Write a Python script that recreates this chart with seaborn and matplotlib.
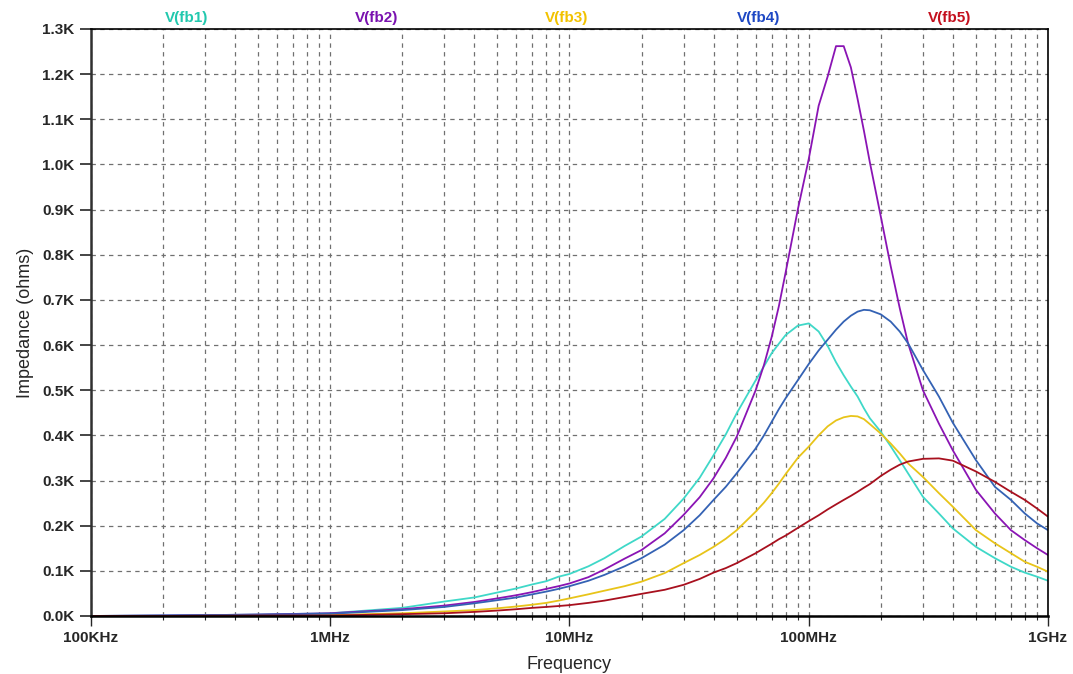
import matplotlib
matplotlib.use("Agg")

import numpy as np
import pandas as pd
import matplotlib.pyplot as plt
import matplotlib.ticker as mticker
import seaborn as sns

# ---------------------------------------------------------------
# data (frequency in MHz, impedance in ohms)
# ---------------------------------------------------------------
freq_mhz = [0.1, 0.2, 0.5, 1,
            2, 3, 4, 5, 6, 7, 8, 9, 10,
            12, 14, 17, 20,
            25, 30, 35, 40, 45, 50,
            60, 65, 70, 75, 80, 90, 100,
            110, 120, 130, 140, 150, 160, 170, 180,
            200, 220, 240, 260,
            300, 350, 400,
            500, 600, 700, 800, 900, 1000]

fb1 = [0, 1, 3, 6,
       18, 32, 41, 52, 61, 70, 77, 87, 93,
       110, 128, 155, 176,
       215, 260, 306, 356, 402, 449,
       522, 553, 582, 603, 622, 643, 648,
       630, 598, 562, 533, 508, 486, 460, 438,
       408, 376, 345, 316,
       264, 227, 194,
       153, 128, 109, 96, 87, 78]

fb2 = [0, 1, 3, 6,
       15, 23, 31, 39, 46, 53, 60, 66, 72,
       86, 103, 127, 146,
       183, 224, 263, 305, 350, 397,
       500, 556, 618, 686, 760, 900, 1012,
       1130, 1195, 1262, 1262, 1215, 1145, 1075, 1005,
       885, 775, 682, 604,
       500, 426, 367,
       279, 227, 190, 168, 150, 135]

fb3 = [0, 0, 1, 2,
       6, 10, 13, 17, 21, 25, 29, 34, 39,
       48, 56, 66, 76,
       95, 117, 135, 153, 171, 190,
       231, 251, 272, 293, 314, 350, 375,
       400, 420, 433, 440, 443, 442, 436, 425,
       404, 382, 360, 338,
       308, 272, 242,
       190, 161, 139, 120, 109, 98]

fb4 = [0, 1, 3, 5,
       13, 20, 28, 35, 41, 48, 54, 60, 66,
       78, 91, 110, 128,
       158, 190, 223, 257, 286, 316,
       371, 400, 430, 458, 482, 522, 558,
       588, 612, 634, 652, 665, 674, 678, 677,
       668, 652, 630, 604,
       545, 486, 428,
       345, 286, 257, 227, 205, 190]

fb5 = [0, 0, 1, 1,
       4, 6, 9, 12, 15, 18, 20, 22, 24,
       29, 34, 42, 49,
       58, 69, 82, 96, 106, 117,
       139, 150, 160, 170, 178, 195, 210,
       223, 236, 247, 257, 266, 275, 284, 292,
       310, 324, 335, 342,
       348, 349, 344,
       320, 297, 275, 257, 238, 220]

series_names = ["V(fb1)", "V(fb2)", "V(fb3)", "V(fb4)", "V(fb5)"]
line_colors = ["#3fd8c8", "#8a14b4", "#e8c419", "#3462b4", "#a8101e"]
label_colors = ["#22c8ae", "#7a12b0", "#f2c200", "#1e48c4", "#c4101e"]

x_ticks = [1e5, 1e6, 1e7, 1e8, 1e9]
x_tick_labels = ["100KHz", "1MHz", "10MHz", "100MHz", "1GHz"]

# long table for seaborn
frames = []
for name, vals in zip(series_names, [fb1, fb2, fb3, fb4, fb5]):
    frames.append(pd.DataFrame({"freq": np.array(freq_mhz) * 1e6,
                                "ohms": vals,
                                "series": name}))
df = pd.concat(frames, ignore_index=True)

# ---------------------------------------------------------------
# plot
# ---------------------------------------------------------------
sns.set_style("white")
plt.rcParams["font.family"] = ["Liberation Sans", "DejaVu Sans"]

fig = plt.figure(figsize=(10.73, 6.74), dpi=100)
ax = fig.add_axes([0.0848, 0.0861, 0.8919, 0.8709])

sns.lineplot(data=df, x="freq", y="ohms", hue="series",
             palette=dict(zip(series_names, line_colors)),
             linewidth=1.3, legend=False, ax=ax)

ax.set_xscale("log")
ax.set_xlim(1e5, 1e9)
ax.set_ylim(0, 1300)

ax.set_xticks(x_ticks)
ax.set_xticklabels(x_tick_labels, fontweight="bold", fontsize=11)
ax.xaxis.set_minor_locator(mticker.LogLocator(base=10, subs=np.arange(2, 10)))
ax.xaxis.set_minor_formatter(mticker.NullFormatter())

ax.yaxis.set_major_locator(mticker.MultipleLocator(100))
ax.yaxis.set_major_formatter(mticker.FuncFormatter(lambda v, p: f"{v/1000:.1f}K"))
ax.tick_params(axis="y", labelsize=11, length=8, width=1.2, direction="out",
               left=True, pad=4)
ax.tick_params(axis="x", which="major", length=7, width=1.0, direction="out",
               bottom=True, pad=4)
ax.tick_params(axis="x", which="minor", length=3, width=0.8, direction="out",
               bottom=True)
plt.setp(ax.get_yticklabels(), fontweight="bold")

ax.grid(True, which="both", axis="x", color="#707070", linestyle=(0, (3.5, 3.5)),
        linewidth=0.9)
ax.grid(True, which="major", axis="y", color="#707070", linestyle=(0, (3.5, 3.5)),
        linewidth=0.9)

for side in ["top", "right", "bottom", "left"]:
    ax.spines[side].set_visible(True)
    ax.spines[side].set_color("black")
ax.spines["left"].set_linewidth(1.8)
ax.spines["left"].set_color("#303030")
ax.spines["bottom"].set_linewidth(1.8)
ax.spines["top"].set_linewidth(1.2)
ax.spines["right"].set_linewidth(1.2)

ax.set_xlabel("Frequency", fontsize=13, labelpad=8)
ax.set_ylabel("Impedance (ohms)", fontsize=13, labelpad=6)

# trace names across the top, coloured like the traces
label_x = [0.10, 0.298, 0.497, 0.698, 0.897]
for name, col, lx in zip(series_names, label_colors, label_x):
    ax.text(lx, 1.006, name, color=col, fontsize=11, fontweight="bold",
            ha="center", va="bottom", transform=ax.transAxes)

plt.savefig("out.png", dpi=100)
